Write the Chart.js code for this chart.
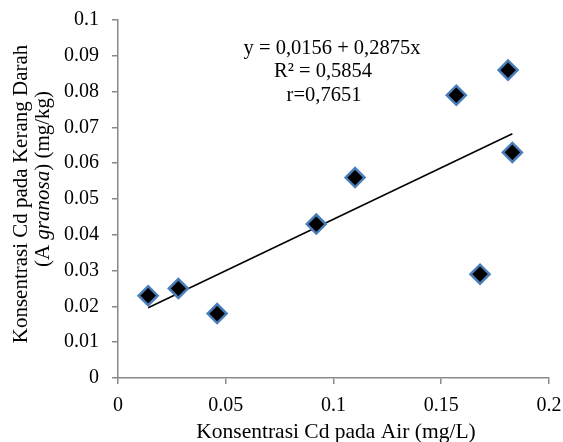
<!DOCTYPE html>
<html>
<head>
<meta charset="utf-8">
<script src="https://cdn.jsdelivr.net/npm/chart.js@4"></script>
<style>
  html, body { margin: 0; padding: 0; background: #ffffff; }
  #wrap { width: 563px; height: 442px; }
</style>
</head>
<body>
<div id="wrap"><canvas id="c" width="563" height="442"></canvas></div>
<script>
// Data
const airCd = [0.014, 0.028, 0.046, 0.092, 0.110, 0.157, 0.168, 0.181, 0.183];
const kerangCd = [0.023, 0.025, 0.018, 0.043, 0.056, 0.079, 0.029, 0.086, 0.063];
const trendIntercept = 0.0156;
const trendSlope = 0.2875;
const trendX = [0.014, 0.183];
const equationLines = ["y = 0,0156 + 0,2875x", "R² = 0,5854", "r=0,7651"];
const xTitle = "Konsentrasi Cd pada Air (mg/L)";
const yTitleLine1 = "Konsentrasi Cd pada Kerang Darah";
const yTitleLine2Parts = [["(A ", false], ["granosa", true], [") (mg/kg)", false]];

const FONT = "'Liberation Serif', 'Times New Roman', serif";
const AXIS_COLOR = '#898989';

const trendData = trendX.map(x => ({ x: x, y: trendIntercept + trendSlope * x }));
const pointData = airCd.map((x, i) => ({ x: x, y: kerangCd[i] }));

const textPlugin = {
  id: 'texts',
  afterDraw(chart) {
    const ctx = chart.ctx;
    ctx.save();
    ctx.fillStyle = '#000';
    ctx.textBaseline = 'middle';
    ctx.textAlign = 'center';
    ctx.font = "20.5px " + FONT;
    // equation annotation
    const ex = [332, 323, 324], ey = [49, 72, 96];
    equationLines.forEach((t, i) => ctx.fillText(t, ex[i], ey[i]));
    // x title
    ctx.font = "21.5px " + FONT;
    ctx.fillText(xTitle, 336, 432);
    // y title line 1 (rotated)
    ctx.font = "21px " + FONT;
    ctx.translate(21, 194);
    ctx.rotate(-Math.PI / 2);
    ctx.fillText(yTitleLine1, 0, 0);
    ctx.restore();
    // y title line 2 with italic part
    ctx.save();
    ctx.fillStyle = '#000';
    ctx.textBaseline = 'middle';
    ctx.translate(43, 179);
    ctx.rotate(-Math.PI / 2);
    let total = 0;
    const widths = yTitleLine2Parts.map(([t, it]) => {
      ctx.font = (it ? "italic " : "") + "21px " + FONT;
      const w = ctx.measureText(t).width;
      total += w;
      return w;
    });
    let xx = -total / 2;
    ctx.textAlign = 'left';
    yTitleLine2Parts.forEach(([t, it], i) => {
      ctx.font = (it ? "italic " : "") + "21px " + FONT;
      ctx.fillText(t, xx, 0);
      xx += widths[i];
    });
    ctx.restore();
  }
};

new Chart(document.getElementById('c'), {
  type: 'scatter',
  data: {
    datasets: [
      {
        type: 'line',
        data: trendData,
        borderColor: '#000000',
        borderWidth: 1.5,
        pointRadius: 0,
        fill: false,
        order: 2
      },
      {
        data: pointData,
        pointStyle: 'rectRot',
        pointRadius: 9.5,
        pointHoverRadius: 9.5,
        backgroundColor: '#000000',
        borderColor: '#4a7ebb',
        borderWidth: 2.5,
        order: 1
      }
    ]
  },
  options: {
    responsive: false,
    animation: false,
    devicePixelRatio: 1,
    layout: { padding: { left: 0, right: 14, top: 20, bottom: 0 } },
    plugins: { legend: { display: false }, tooltip: { enabled: false }, title: { display: false } },
    scales: {
      x: {
        type: 'linear',
        min: 0, max: 0.2,
        afterFit(s) { s.height = 64; s.paddingLeft = 0; s.paddingRight = 0; },
        border: { display: true, color: AXIS_COLOR, width: 1.5 },
        grid: { display: true, drawOnChartArea: false, drawTicks: true, tickLength: 6, color: AXIS_COLOR, lineWidth: 1.5 },
        ticks: {
          stepSize: 0.05,
          color: '#000',
          font: { family: FONT, size: 20 },
          padding: 10,
          maxRotation: 0,
          callback: v => String(Math.round(v * 100) / 100)
        }
      },
      y: {
        type: 'linear',
        min: 0, max: 0.1,
        afterFit(s) { s.width = 118; s.paddingTop = 0; s.paddingBottom = 0; },
        border: { display: true, color: AXIS_COLOR, width: 1.5 },
        grid: { display: true, drawOnChartArea: false, drawTicks: true, tickLength: 6, color: AXIS_COLOR, lineWidth: 1.5 },
        ticks: {
          stepSize: 0.01,
          color: '#000',
          font: { family: FONT, size: 20 },
          padding: 13,
          callback: v => String(Math.round(v * 1000) / 1000)
        }
      }
    }
  },
  plugins: [textPlugin]
});
</script>
</body>
</html>
